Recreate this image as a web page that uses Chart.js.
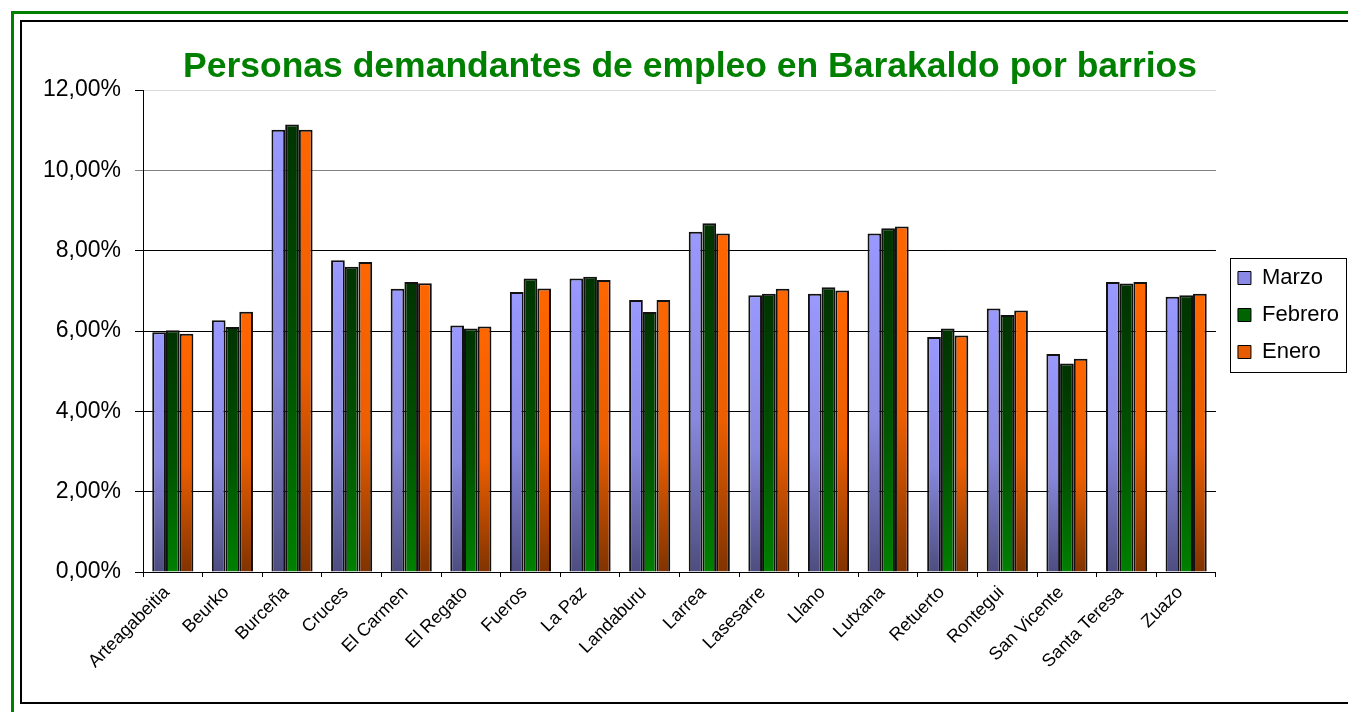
<!DOCTYPE html>
<html lang="es">
<head>
<meta charset="utf-8">
<title>Personas demandantes de empleo en Barakaldo por barrios</title>
<script src="https://cdn.jsdelivr.net/npm/chart.js@4.4.1/dist/chart.umd.min.js"></script>
<style>
    html, body { margin: 0; padding: 0; background: #fff; overflow: hidden; }
    body { width: 1348px; height: 712px; position: relative; }
    .frame-green { position: absolute; left: 11px; top: 11px; width: 1400px; height: 800px; border: 3px solid #008000; }
    .frame-black { position: absolute; left: 20px; top: 20px; width: 1400px; height: 680px; border: 2px solid #000; }
    .chart-box { position: absolute; left: 22px; top: 22px; width: 1326px; height: 679px; }
</style>
</head>
<body>
<div class="frame-green"></div>
<div class="frame-black"></div>
<div class="chart-box"><canvas id="barriosChart"></canvas></div>

<script>
// Datos (porcentaje de demandantes por barrio)
const barrios = ['Arteagabeitia', 'Beurko', 'Burceña', 'Cruces', 'El Carmen', 'El Regato', 'Fueros', 'La Paz',
    'Landaburu', 'Larrea', 'Lasesarre', 'Llano', 'Lutxana', 'Retuerto', 'Rontegui', 'San Vicente', 'Santa Teresa', 'Zuazo'];
const marzo   = [5.97, 6.27, 11.01, 7.76, 7.05, 6.14, 6.97, 7.31, 6.77, 8.47, 6.89, 6.93, 8.43, 5.85, 6.56, 5.43, 7.22, 6.85];
const febrero = [6.02, 6.10, 11.14, 7.60, 7.22, 6.06, 7.31, 7.35, 6.47, 8.68, 6.93, 7.09, 8.56, 6.06, 6.40, 5.19, 7.18, 6.89];
const enero   = [5.93, 6.48, 11.01, 7.72, 7.19, 6.11, 7.06, 7.27, 6.77, 8.43, 7.05, 7.01, 8.60, 5.89, 6.51, 5.31, 7.22, 6.93];
const yTicks  = [0, 2, 4, 6, 8, 10, 12];

const FONT = '"Liberation Sans", Arial, sans-serif';

// gradient per bar: light at the top, dark at the axis
function barFill(topColor, midColor, bottomColor) {
    return ctx => {
        const chart = ctx.chart;
        if (!chart.chartArea || ctx.type !== 'data' || !chart.scales.y) return topColor;
        const yTop = chart.scales.y.getPixelForValue(ctx.raw);
        const yBottom = chart.scales.y.getPixelForValue(0);
        if (!isFinite(yTop) || yBottom - yTop < 1) return topColor;
        const g = chart.ctx.createLinearGradient(0, yTop, 0, yBottom);
        g.addColorStop(0, topColor);
        g.addColorStop(0.55, midColor);
        g.addColorStop(1, bottomColor);
        return g;
    };
}

const legendColors = ['#8a8ae6', '#006400', '#e85c00'];

// legend frame like the spreadsheet one
const legendFrame = {
    id: 'legendFrame',
    afterLayout(chart) {
        const lg = chart.legend;
        lg.left += 7;
        lg.right += 7;
        lg.bottom -= 32;
        lg.height -= 32;
    },
    afterDraw(chart) {
        const boxes = chart.legend.legendHitBoxes;
        if (!boxes || !boxes.length) return;
        const left = Math.min(...boxes.map(b => b.left)) - 8;
        const right = Math.max(...boxes.map(b => b.left + b.width)) + 7;
        const top = boxes[0].top - 9;
        const bottom = boxes[boxes.length - 1].top + boxes[boxes.length - 1].height + 9;
        const c = chart.ctx;
        c.save();
        c.strokeStyle = '#000';
        c.lineWidth = 1;
        c.strokeRect(Math.round(left) + 0.5, Math.round(top) + 0.5, Math.round(right - left), Math.round(bottom - top));
        c.restore();
    }
};

function initChart() {
    const ctx = document.getElementById('barriosChart').getContext('2d');
    return new Chart(ctx, {
        type: 'bar',
        data: {
            labels: barrios,
            datasets: [{
                label: 'Marzo',
                data: marzo,
                backgroundColor: barFill('#9999ff', '#8888de', '#4d4d80'),
                borderColor: '#111',
                borderWidth: 2
            }, {
                label: 'Febrero',
                data: febrero,
                backgroundColor: barFill('#003300', '#005200', '#008000'),
                borderColor: '#111',
                borderWidth: 2
            }, {
                label: 'Enero',
                data: enero,
                backgroundColor: barFill('#ff6600', '#ec5e00', '#803300'),
                borderColor: '#111',
                borderWidth: 2
            }]
        },
        options: {
            responsive: true,
            maintainAspectRatio: false,
            animation: false,
            events: [],
            layout: { padding: { left: 16, right: 6, top: 0, bottom: 0 } },
            datasets: {
                bar: { categoryPercentage: 0.69, barPercentage: 1 }
            },
            scales: {
                x: {
                    grid: {
                        drawOnChartArea: false,
                        drawTicks: true,
                        tickLength: 5,
                        color: '#000'
                    },
                    border: { color: '#000', width: 1 },
                    ticks: {
                        color: '#000',
                        font: { family: FONT, size: 18 },
                        maxRotation: 45,
                        minRotation: 45,
                        autoSkip: false,
                        labelOffset: -6,
                        padding: 5
                    },
                    afterFit: scale => { scale.height = 129; }
                },
                y: {
                    min: 0,
                    max: 12,
                    afterBuildTicks: scale => { scale.ticks = yTicks.map(v => ({ value: v })); },
                    grid: {
                        color: c => c.tick && c.tick.value === 12 ? '#d9d9d9' : (c.tick && c.tick.value === 10 ? '#808080' : '#000'),
                        tickColor: c => c.tick && c.tick.value === 10 ? '#808080' : '#000',
                        tickLength: 8,
                        lineWidth: 1
                    },
                    border: { color: '#000', width: 1 },
                    ticks: {
                        color: '#000',
                        font: { family: FONT, size: 23 },
                        padding: 14,
                        callback: value => value.toFixed(2).replace('.', ',') + '%'
                    },
                    afterFit: scale => { scale.width = 105; }
                }
            },
            plugins: {
                title: {
                    display: true,
                    text: 'Personas demandantes de empleo en Barakaldo por barrios',
                    color: '#008000',
                    font: { family: FONT, size: 35.5, weight: 'bold' },
                    padding: { top: 24, bottom: 1.4 }
                },
                legend: {
                    position: 'right',
                    fullSize: false,
                    labels: {
                        color: '#000',
                        font: { family: FONT, size: 22 },
                        boxWidth: 13,
                        boxHeight: 13,
                        padding: 15,
                        generateLabels: chart => {
                            const items = Chart.defaults.plugins.legend.labels.generateLabels(chart);
                            items.forEach((item, i) => {
                                item.fillStyle = legendColors[i];
                                item.strokeStyle = '#000';
                                item.lineWidth = 1;
                            });
                            return items;
                        }
                    }
                },
                tooltip: { enabled: false }
            }
        },
        plugins: [legendFrame]
    });
}

document.addEventListener('DOMContentLoaded', () => {
    initChart();
});
</script>
</body>
</html>
